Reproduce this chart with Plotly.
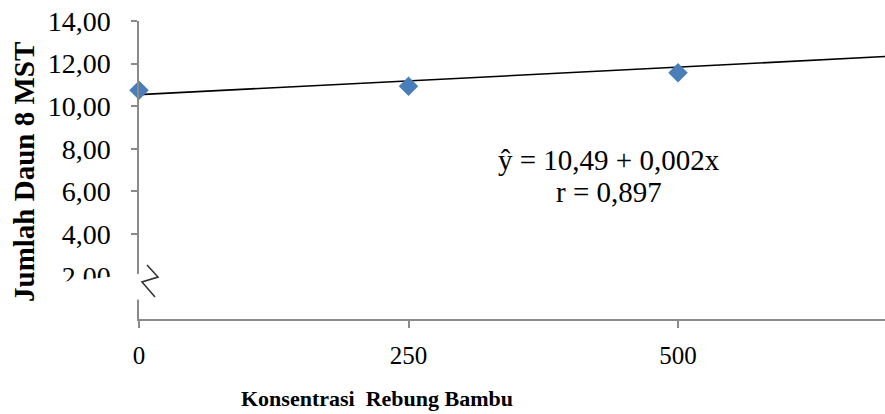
import plotly.graph_objects as go

# ---- data ----
konsentrasi = [0, 250, 500]
jumlah_daun = [10.75, 10.93, 11.57]
trend_x = [0, 692]
trend_y = [10.54, 12.33]
x_tick_vals = [0, 250, 500]
x_tick_text = ["0", "250", "500"]
y_tick_vals = [2, 4, 6, 8, 10, 12, 14]
y_tick_text = ["2,00", "4,00", "6,00", "8,00", "10,00", "12,00", "14,00"]
equation_text = "ŷ = 10,49 + 0,002x"
r_text = "r = 0,897"

W, H = 885, 414
L, R, T, B = 139, 0, 21, 95
PW, PH = W - L - R, H - T - B


def px(x):
    return (x - L) / PW


def py(y):
    return (H - B - y) / PH


FONT = "Liberation Serif, Times New Roman, serif"
AXC = "#8a8a8a"

fig = go.Figure()
fig.add_trace(go.Scatter(x=trend_x, y=trend_y, mode="lines",
                         line=dict(color="black", width=1.6),
                         hoverinfo="skip", showlegend=False))
fig.add_trace(go.Scatter(x=konsentrasi, y=jumlah_daun, mode="markers",
                         marker=dict(symbol="diamond", size=15, color="#4A7EBB",
                                     line=dict(width=0)),
                         cliponaxis=False, showlegend=False))

fig.update_xaxes(range=[0, 692], tickvals=x_tick_vals, ticktext=x_tick_text,
                 showgrid=False, zeroline=False, showline=True, linecolor=AXC,
                 linewidth=1.5, ticks="outside", ticklen=7, tickcolor=AXC,
                 tickwidth=1.5, tickfont=dict(family=FONT, size=25, color="black"),
                 ticklabelstandoff=6)
fig.update_yaxes(range=[0, 14], tickvals=y_tick_vals, ticktext=y_tick_text,
                 showgrid=False, zeroline=False, showline=True, linecolor=AXC,
                 linewidth=1.5, ticks="outside", ticklen=6, tickcolor=AXC,
                 tickwidth=1.5, tickfont=dict(family=FONT, size=28, color="black"),
                 ticklabelstandoff=15)

# axis break: white band and zigzag symbol
band = (f"M{px(60)},{py(282)} L{px(166)},{py(271)} "
        f"L{px(166)},{py(298)} L{px(60)},{py(304)} Z")
zig = (f"M{px(147)},{py(265)} L{px(158)},{py(277)} "
       f"L{px(142)},{py(282)} L{px(155)},{py(297)}")
fig.add_shape(type="path", path=band, xref="paper", yref="paper",
              fillcolor="white", line=dict(width=0), layer="above")
fig.add_shape(type="path", path=zig, xref="paper", yref="paper",
              line=dict(color="#333333", width=1.6), layer="above")

annots = [
    dict(text=equation_text, x=px(609), y=py(160), size=29, angle=0),
    dict(text=r_text, x=px(609), y=py(192), size=29, angle=0),
    dict(text="<b>Konsentrasi\u00a0 Rebung Bambu</b>", x=px(377), y=py(398),
         size=22, angle=0),
    dict(text="<b>Jumlah Daun 8 MST</b>", x=px(24), y=py(172), size=29,
         angle=-90),
]
for a in annots:
    fig.add_annotation(text=a["text"], x=a["x"], y=a["y"], xref="paper",
                       yref="paper", xanchor="center", yanchor="middle",
                       showarrow=False, textangle=a["angle"],
                       font=dict(family=FONT, size=a["size"], color="black"))

fig.update_layout(width=W, height=H, margin=dict(l=L, r=R, t=T, b=B),
                  paper_bgcolor="white", plot_bgcolor="white", showlegend=False)

fig.write_html("out.html", config={"displayModeBar": False},
               post_script="document.body.style.margin='0';"
                           "document.body.style.overflow='hidden';")
